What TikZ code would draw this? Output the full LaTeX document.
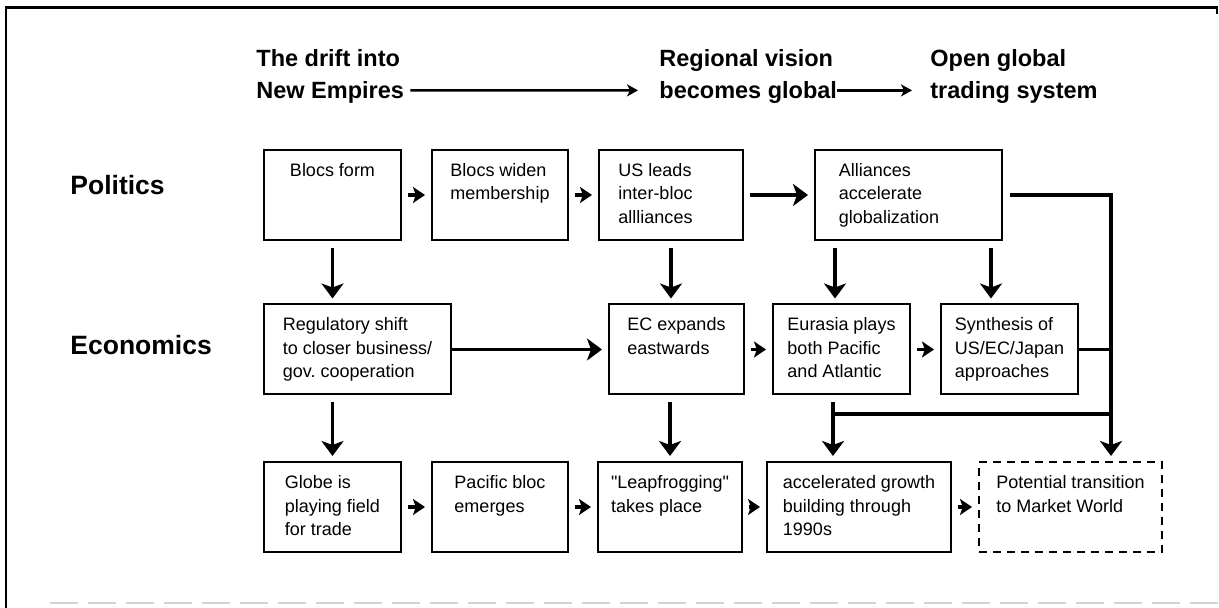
\documentclass[tikz,border=0pt]{standalone}
\usepackage{fontspec}
\setmainfont{Liberation Sans}
\usepackage{tikz}
\usetikzlibrary{arrows.meta}
\frenchspacing
\newcommand{\stagetext}[1]{\begin{tabular}[t]{@{}l@{}}#1\end{tabular}}
\tikzset{
  stage_box/.style = {rectangle, draw=black, line width=1pt, inner xsep=0pt,
    inner ysep=5pt, text height=8.25pt, text depth=26.75pt,
    font=\fontsize{9}{11.75}\selectfont},% boite d'etape
  open_box/.style = {stage_box, dash pattern=on 4pt off 3pt},% etape possible
  row_label/.style = {anchor=west, inner sep=0pt,
    font=\bfseries\fontsize{13.25}{16}\selectfont},% politique / economie
  stage_head/.style = {anchor=north west, inner sep=0pt, align=left,
    font=\bfseries\fontsize{11.75}{16}\selectfont},% titres du haut
  flow_arrow/.style = {line width=1.75pt,
    -{Stealth[width=11pt,length=7.5pt,inset=2pt]},
    shorten <=3.5pt, shorten >=2.5pt},% grandes fleches
  step_arrow/.style = {line width=1.75pt,
    -{Stealth[width=8pt,length=6pt,inset=1.4pt]},
    shorten <=3pt, shorten >=3pt},% petites fleches
  head_arrow/.style = {line width=1.2pt,
    -{Stealth[width=6pt,length=5.5pt,inset=1.5pt]}},% fleches des titres
  rail_line/.style = {line width=1.75pt}
}
\begin{document}
\begin{tikzpicture}[x=0.5pt, y=-0.5pt]
  \useasboundingbox (0,0) rectangle (1219,608);
  % cadre
  \draw[line width=1.2pt] (6,608) -- (6,7.5) -- (1217,7.5) -- (1217,14);
  \draw[gray!35, line width=1.2pt, dash pattern=on 14pt off 5pt] (50,603) -- (1219,603);

  % titres
  \node[stage_head] (drift) at (256,49) {The drift into\\New Empires};
  \node[stage_head] (regional) at (659,49) {Regional vision\\becomes global};
  \node[stage_head] (open_global) at (930,49) {Open global\\trading system};
  \draw[head_arrow, shorten <=3pt, shorten >=10.5pt] ([yshift=-7pt]drift.east) -- ([yshift=-7pt]regional.west);
  \draw[head_arrow, shorten >=9pt] ([yshift=-7pt]regional.east) -- ([yshift=-7pt]open_global.west);

  \node[row_label] (politics) at (70,185) {Politics};
  \node[row_label] (economics) at (70,345) {Economics};

  % rangee 1
  \node[stage_box, minimum width=68.5pt] (blocs_form) at (332.5,195) {\stagetext{Blocs form}};
  \node[stage_box, minimum width=68pt] (blocs_widen) at (500,195) {\stagetext{Blocs widen\\membership}};
  \node[stage_box, minimum width=72pt] (us_leads) at (671,195) {\stagetext{US leads\\inter-bloc\\allliances}\kern15.5pt};
  \node[stage_box, minimum width=93.5pt] (alliances) at (908.5,195) {\stagetext{Alliances\\accelerate\\globalization}\kern19.5pt};

  % rangee 2
  \node[stage_box, minimum width=93.5pt] (reg_shift) at (357.5,349.5) {\stagetext{Regulatory shift\\to closer business/\\gov. cooperation}};
  \node[stage_box, minimum width=67.5pt] (ec_expands) at (676.5,349.5) {\stagetext{EC expands\\eastwards}};
  \node[stage_box, minimum width=68.5pt] (eurasia) at (841.5,349.5) {\stagetext{Eurasia plays\\both Pacific\\and Atlantic}};
  \node[stage_box, minimum width=68.5pt] (synthesis) at (1009.5,349.5) {\stagetext{Synthesis of\\US/EC/Japan\\approaches}};

  % rangee 3
  \node[stage_box, minimum width=68.5pt] (globe) at (332.5,507) {\stagetext{Globe is\\playing field\\for trade}};
  \node[stage_box, minimum width=68pt] (pacific_bloc) at (500,507) {\stagetext{Pacific bloc\\emerges}};
  \node[stage_box, minimum width=72pt] (leapfrog) at (670,507) {\stagetext{\textquotedbl Leapfrogging\textquotedbl\\takes place}};
  \node[stage_box, minimum width=92pt] (accel_growth) at (859,507) {\stagetext{accelerated growth\\building through\\1990s}};
  \node[open_box, minimum width=91.5pt] (transition) at (1070.5,507) {\stagetext{Potential transition\\to Market World}};

  % fleches vers le bas
  \coordinate (eu_in) at ([xshift=-3.25pt]eurasia.north);
  \coordinate (syn_in) at ([xshift=-9.25pt]synthesis.north);
  \coordinate (merge) at (833,414);
  \coordinate (rail) at (1111,414);
  \draw[flow_arrow] (blocs_form.south) -- (blocs_form.south |- reg_shift.north);
  \draw[flow_arrow] (us_leads.south) -- (us_leads.south |- ec_expands.north);
  \draw[flow_arrow] (eu_in |- alliances.south) -- (eu_in);
  \draw[flow_arrow] (syn_in |- alliances.south) -- (syn_in);
  \draw[flow_arrow] (globe.north |- reg_shift.south) -- (globe.north);
  \draw[flow_arrow] (leapfrog.north |- ec_expands.south) -- (leapfrog.north);
  \draw[flow_arrow] (merge |- eurasia.south) -- (merge |- accel_growth.north);
  \draw[rail_line] (merge) -- (rail);
  \draw[rail_line] (synthesis.east) -- (synthesis.east -| rail);
  \draw[flow_arrow] (alliances.east) -| (rail |- transition.north);

  % fleches horizontales
  \draw[step_arrow] (blocs_form) -- (blocs_widen);
  \draw[step_arrow] (blocs_widen) -- (us_leads);
  \draw[flow_arrow, shorten <=3pt, shorten >=3pt] (us_leads) -- (alliances);
  \draw[flow_arrow, shorten <=0pt, shorten >=3pt] (reg_shift) -- (ec_expands);
  \draw[step_arrow] (ec_expands) -- (eurasia);
  \draw[step_arrow] (eurasia) -- (synthesis);
  \draw[step_arrow] (globe) -- (pacific_bloc);
  \draw[step_arrow] (pacific_bloc) -- (leapfrog);
  \draw[step_arrow] (leapfrog) -- (accel_growth);
  \draw[step_arrow] (accel_growth) -- (transition);
\end{tikzpicture}
\end{document}
